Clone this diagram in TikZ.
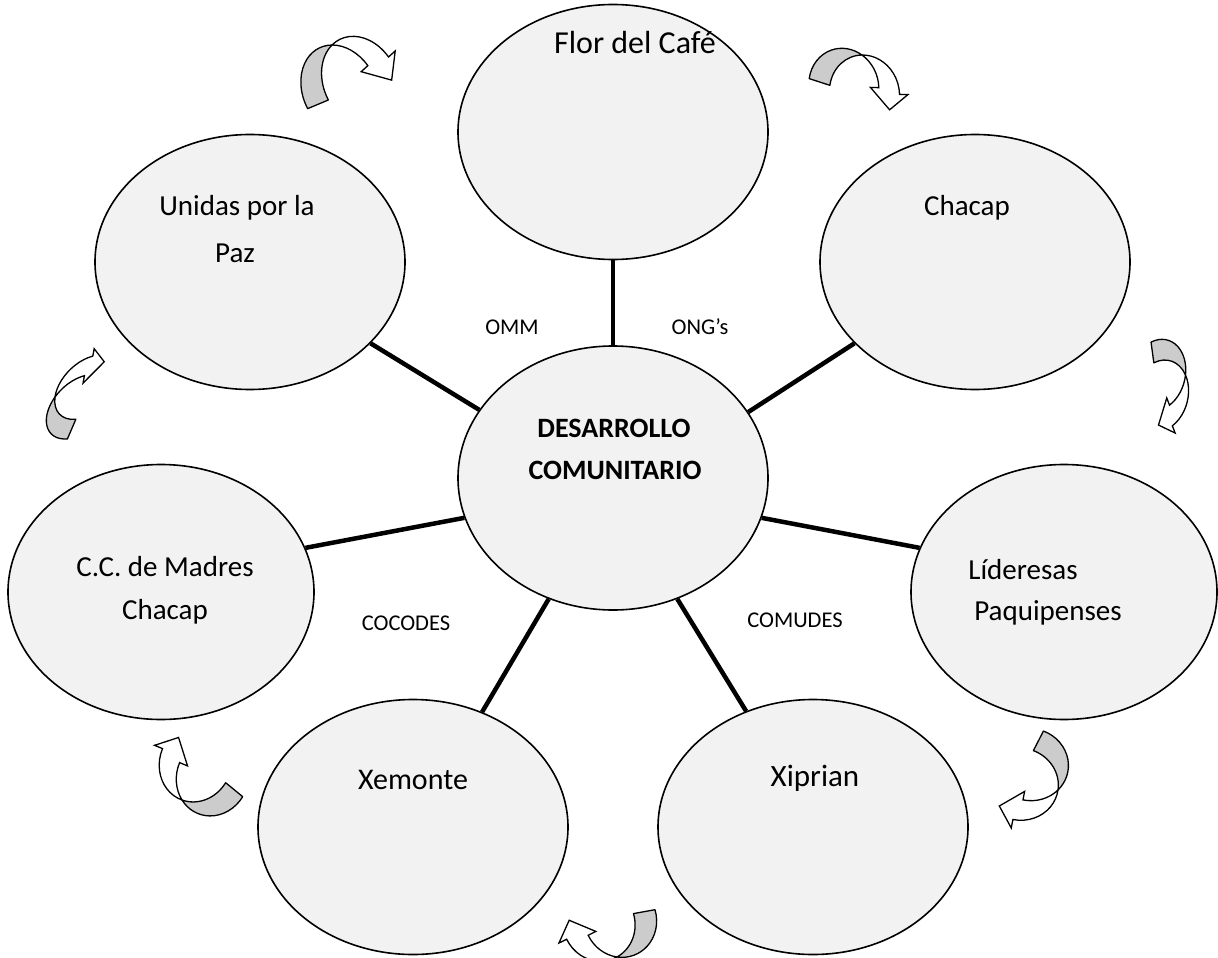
\documentclass[tikz,border=0pt]{standalone}
\usepackage{fontspec}
\setmainfont{Carlito}
\usetikzlibrary{shapes.geometric}
\definecolor{bubblefill}{RGB}{242,242,242}
\newcommand\curvedarrow[1]{%
 \begin{scope}[cm={#1}]
  \path[backleg] (-1.1965,0.0504) arc[start angle=185, end angle=72.3, x radius=0.92, y radius=0.913]
        arc[start angle=107.7, end angle=185, x radius=0.92, y radius=0.913] -- cycle;
  \path[frontleg] (0,1.0) arc[start angle=107.7, end angle=15, x radius=0.92, y radius=0.913]
        -- (1.381,0.4237) -- (1.006,-0.0681) -- (0.3963,0.3089) -- (0.6087,0.3663)
        arc[start angle=15, end angle=72.3, x radius=0.92, y radius=0.913] -- cycle;
 \end{scope}}
\begin{document}
\begin{tikzpicture}[x=1pt,y=1pt,
  bubble/.style={ellipse, draw=black, line width=1.6pt, fill=bubblefill, inner sep=0pt,
                 minimum width=310pt, minimum height=255pt},
  spoke/.style={line width=4.5pt, draw=black},
  lbl/.style={font=\fontsize{29}{35}\selectfont, inner sep=0pt},
  small/.style={font=\fontsize{22.5}{27}\selectfont, inner sep=0pt},
  ctr/.style={font=\fontsize{28}{33}\selectfont\bfseries, inner sep=0pt},
  backleg/.style={fill=gray!40, draw=black, line width=1.3pt, line join=round},
  frontleg/.style={fill=white, draw=black, line width=1.3pt, line join=miter}]
\useasboundingbox (0,0) rectangle (1218,-958);

% bubbles
\node[bubble] (flor)   at (613,-132) {};
\node[bubble] (unidas) at (250,-262) {};
\node[bubble] (chacap) at (975,-262) {};
\node[bubble, minimum height=264pt] (core) at (613,-478) {};
\node[bubble, minimum width=306pt] (madres) at (161,-592) {};
\node[bubble, minimum width=306pt] (lider)  at (1064,-592) {};
\node[bubble] (xemonte) at (413,-827) {};
\node[bubble] (xiprian) at (813,-827) {};

% spokes
\draw[spoke] (flor.270) -- (core.90);
\draw[spoke] (core.153.4) -- (unidas.-34.2);
\draw[spoke] (core.26.2) -- (chacap.214.7);
\draw[spoke] (core.195.9) -- (madres.17);
\draw[spoke] (core.-15.8) -- (lider.163);
\draw[spoke] (core.242.5) -- (xemonte.59.8);
\draw[spoke] (core.298.5) -- (xiprian.120.6);

% labels
\node[lbl, font=\fontsize{32}{38}\selectfont] (tflor) at (635,-43) {Flor del Café};
\node[lbl] (tunidasa) at (237,-208) {Unidas por la};
\node[lbl] (tunidasb) at (235,-253) {Paz};
\node[lbl] (tchacap) at (967,-208) {Chacap};
\node[small] (omm) at (512,-327) {OMM};
\node[small] (ong) at (700,-327) {ONG’s};
\node[ctr] (desa) at (614,-428) {DESARROLLO};
\node[ctr] (desb) at (615,-470) {COMUNITARIO};
\node[lbl] (cca) at (165,-567) {C.C. de Madres};
\node[lbl] (ccb) at (165,-612) {Chacap};
\node[lbl] (lida) at (1023,-570) {Líderesas};
\node[lbl] (lidb) at (1048,-613) {Paquipenses};
\node[small] (cocodes) at (406,-623) {COCODES};
\node[small] (comudes) at (795,-620) {COMUDES};
\node[lbl, font=\fontsize{30}{36}\selectfont] (txem) at (413,-780) {Xemonte};
\node[lbl, font=\fontsize{31}{37}\selectfont] (txip) at (815,-778) {Xiprian};

% curved arrows
\curvedarrow{37,15.5,-21,47.5,(353,-92.5)}
\curvedarrow{37,-12,9,40,(853,-95)}
\curvedarrow{5,-37,30,12,(1155.5,-387)}
\curvedarrow{15,35,-32,0,(87,-397)}
\curvedarrow{-30.5,25,-25.5,-35,(207.5,-765)}
\curvedarrow{-38.5,-7,8.5,-41,(608.5,-916)}
\curvedarrow{-18,-35,38,-18,(1020,-772)}
\end{tikzpicture}
\end{document}
